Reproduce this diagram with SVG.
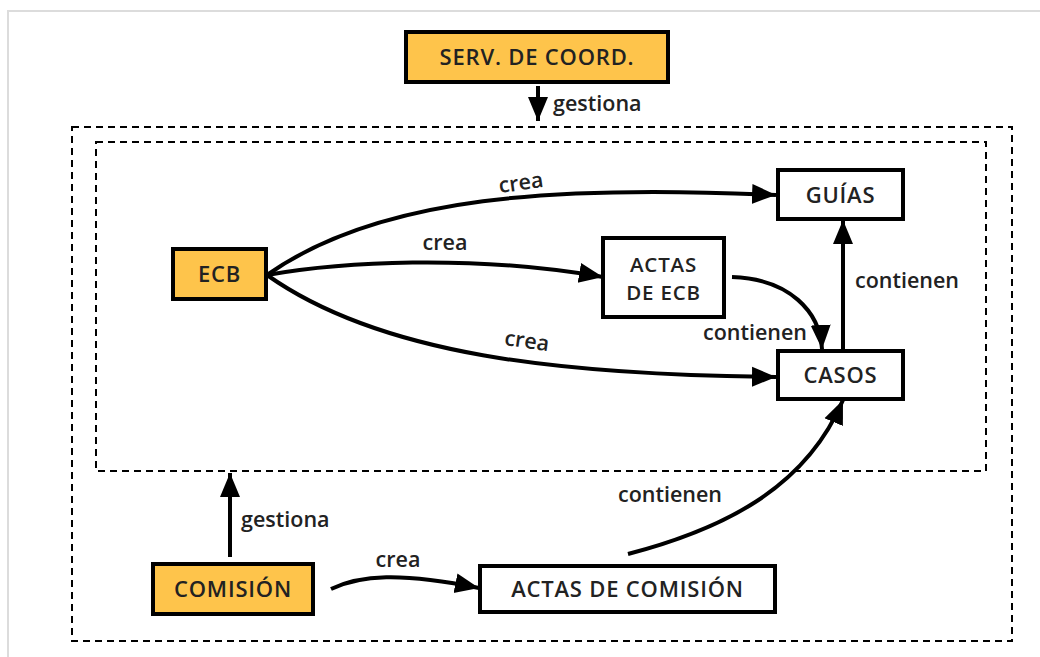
<svg xmlns="http://www.w3.org/2000/svg" width="1040" height="657" viewBox="0 0 1040 657">
<defs>
<marker id="ah" markerUnits="userSpaceOnUse" markerWidth="26" markerHeight="24" viewBox="0 0 26 24" refX="24" refY="12" orient="auto">
<path d="M0,2 L24,12 L0,22 Z" fill="#000"/>
</marker>
<style>
.frame{fill:none;stroke:#dcdcdc;stroke-width:2}
.dash{fill:none;stroke:#000;stroke-width:2;stroke-dasharray:7,5}
.node{stroke:#000;stroke-width:4}
.y{fill:#fec44b}
.w{fill:#fff}
.nt{font-family:"Open Sans","Liberation Sans",sans-serif;font-weight:600;font-size:22px;letter-spacing:0.8px;fill:#222;text-anchor:middle}
.nt2{font-size:20.5px}
.lt{font-family:"Open Sans","Liberation Sans",sans-serif;font-weight:600;font-size:21.5px;fill:#222}
.c{fill:none;stroke:#000;stroke-width:4;marker-end:url(#ah)}
</style>
</defs>
<rect width="1040" height="657" fill="#fff"/>
<rect class="frame" x="8" y="11" width="1100" height="700"/>
<rect class="dash" x="72" y="127" width="940" height="514"/>
<rect class="dash" x="96" y="142" width="890" height="329"/>

<g id="connectors">
<path class="c" d="M538,86 L538,121"/>
<path class="c" d="M267,275 C380,195 560,185 776,195"/>
<path class="c" d="M267,275 C340,262 470,254 603,277"/>
<path class="c" d="M267,275 C380,355 560,375 776,377"/>
<path class="c" d="M732,277 C790,279 820,312 822,349"/>
<path class="c" d="M843,351 L843,220"/>
<path class="c" d="M628,554 C720,530 805,490 843,400"/>
<path class="c" d="M230,557 L230,473"/>
<path class="c" d="M331,589 C360,575 400,572 479,588"/>
<text class="lt" x="553" y="111">gestiona</text>
<text class="lt" x="522" y="190" text-anchor="middle" transform="rotate(-8 522 190)">crea</text>
<text class="lt" x="445" y="250" text-anchor="middle">crea</text>
<text class="lt" x="526" y="348" text-anchor="middle" transform="rotate(8 526 348)">crea</text>
<text class="lt" x="755" y="340" text-anchor="middle">contienen</text>
<text class="lt" x="907" y="288" text-anchor="middle">contienen</text>
<text class="lt" x="670" y="502" text-anchor="middle">contienen</text>
<text class="lt" x="241" y="527">gestiona</text>
<text class="lt" x="398" y="567" text-anchor="middle">crea</text>
</g>

<g id="serv"><rect class="node y" x="406" y="32" width="262" height="50"/><text class="nt" x="537" y="65">SERV. DE COORD.</text></g>
<g id="ecb"><rect class="node y" x="173" y="249" width="93" height="50"/><text class="nt" x="219.5" y="282">ECB</text></g>
<g id="actas-ecb"><rect class="node w" x="603" y="238" width="121" height="79"/><text class="nt nt2" x="663.5" y="271.5">ACTAS</text><text class="nt nt2" x="663.5" y="300">DE ECB</text></g>
<g id="guias"><rect class="node w" x="778" y="170" width="125" height="49"/><text class="nt" x="840.5" y="203">GUÍAS</text></g>
<g id="casos"><rect class="node w" x="778" y="351" width="125" height="48"/><text class="nt" x="840.5" y="383">CASOS</text></g>
<g id="comision"><rect class="node y" x="153" y="564" width="160" height="50"/><text class="nt" x="233" y="597">COMISIÓN</text></g>
<g id="actas-comision"><rect class="node w" x="480" y="566" width="295" height="46"/><text class="nt" x="627.5" y="597">ACTAS DE COMISIÓN</text></g>
</svg>
